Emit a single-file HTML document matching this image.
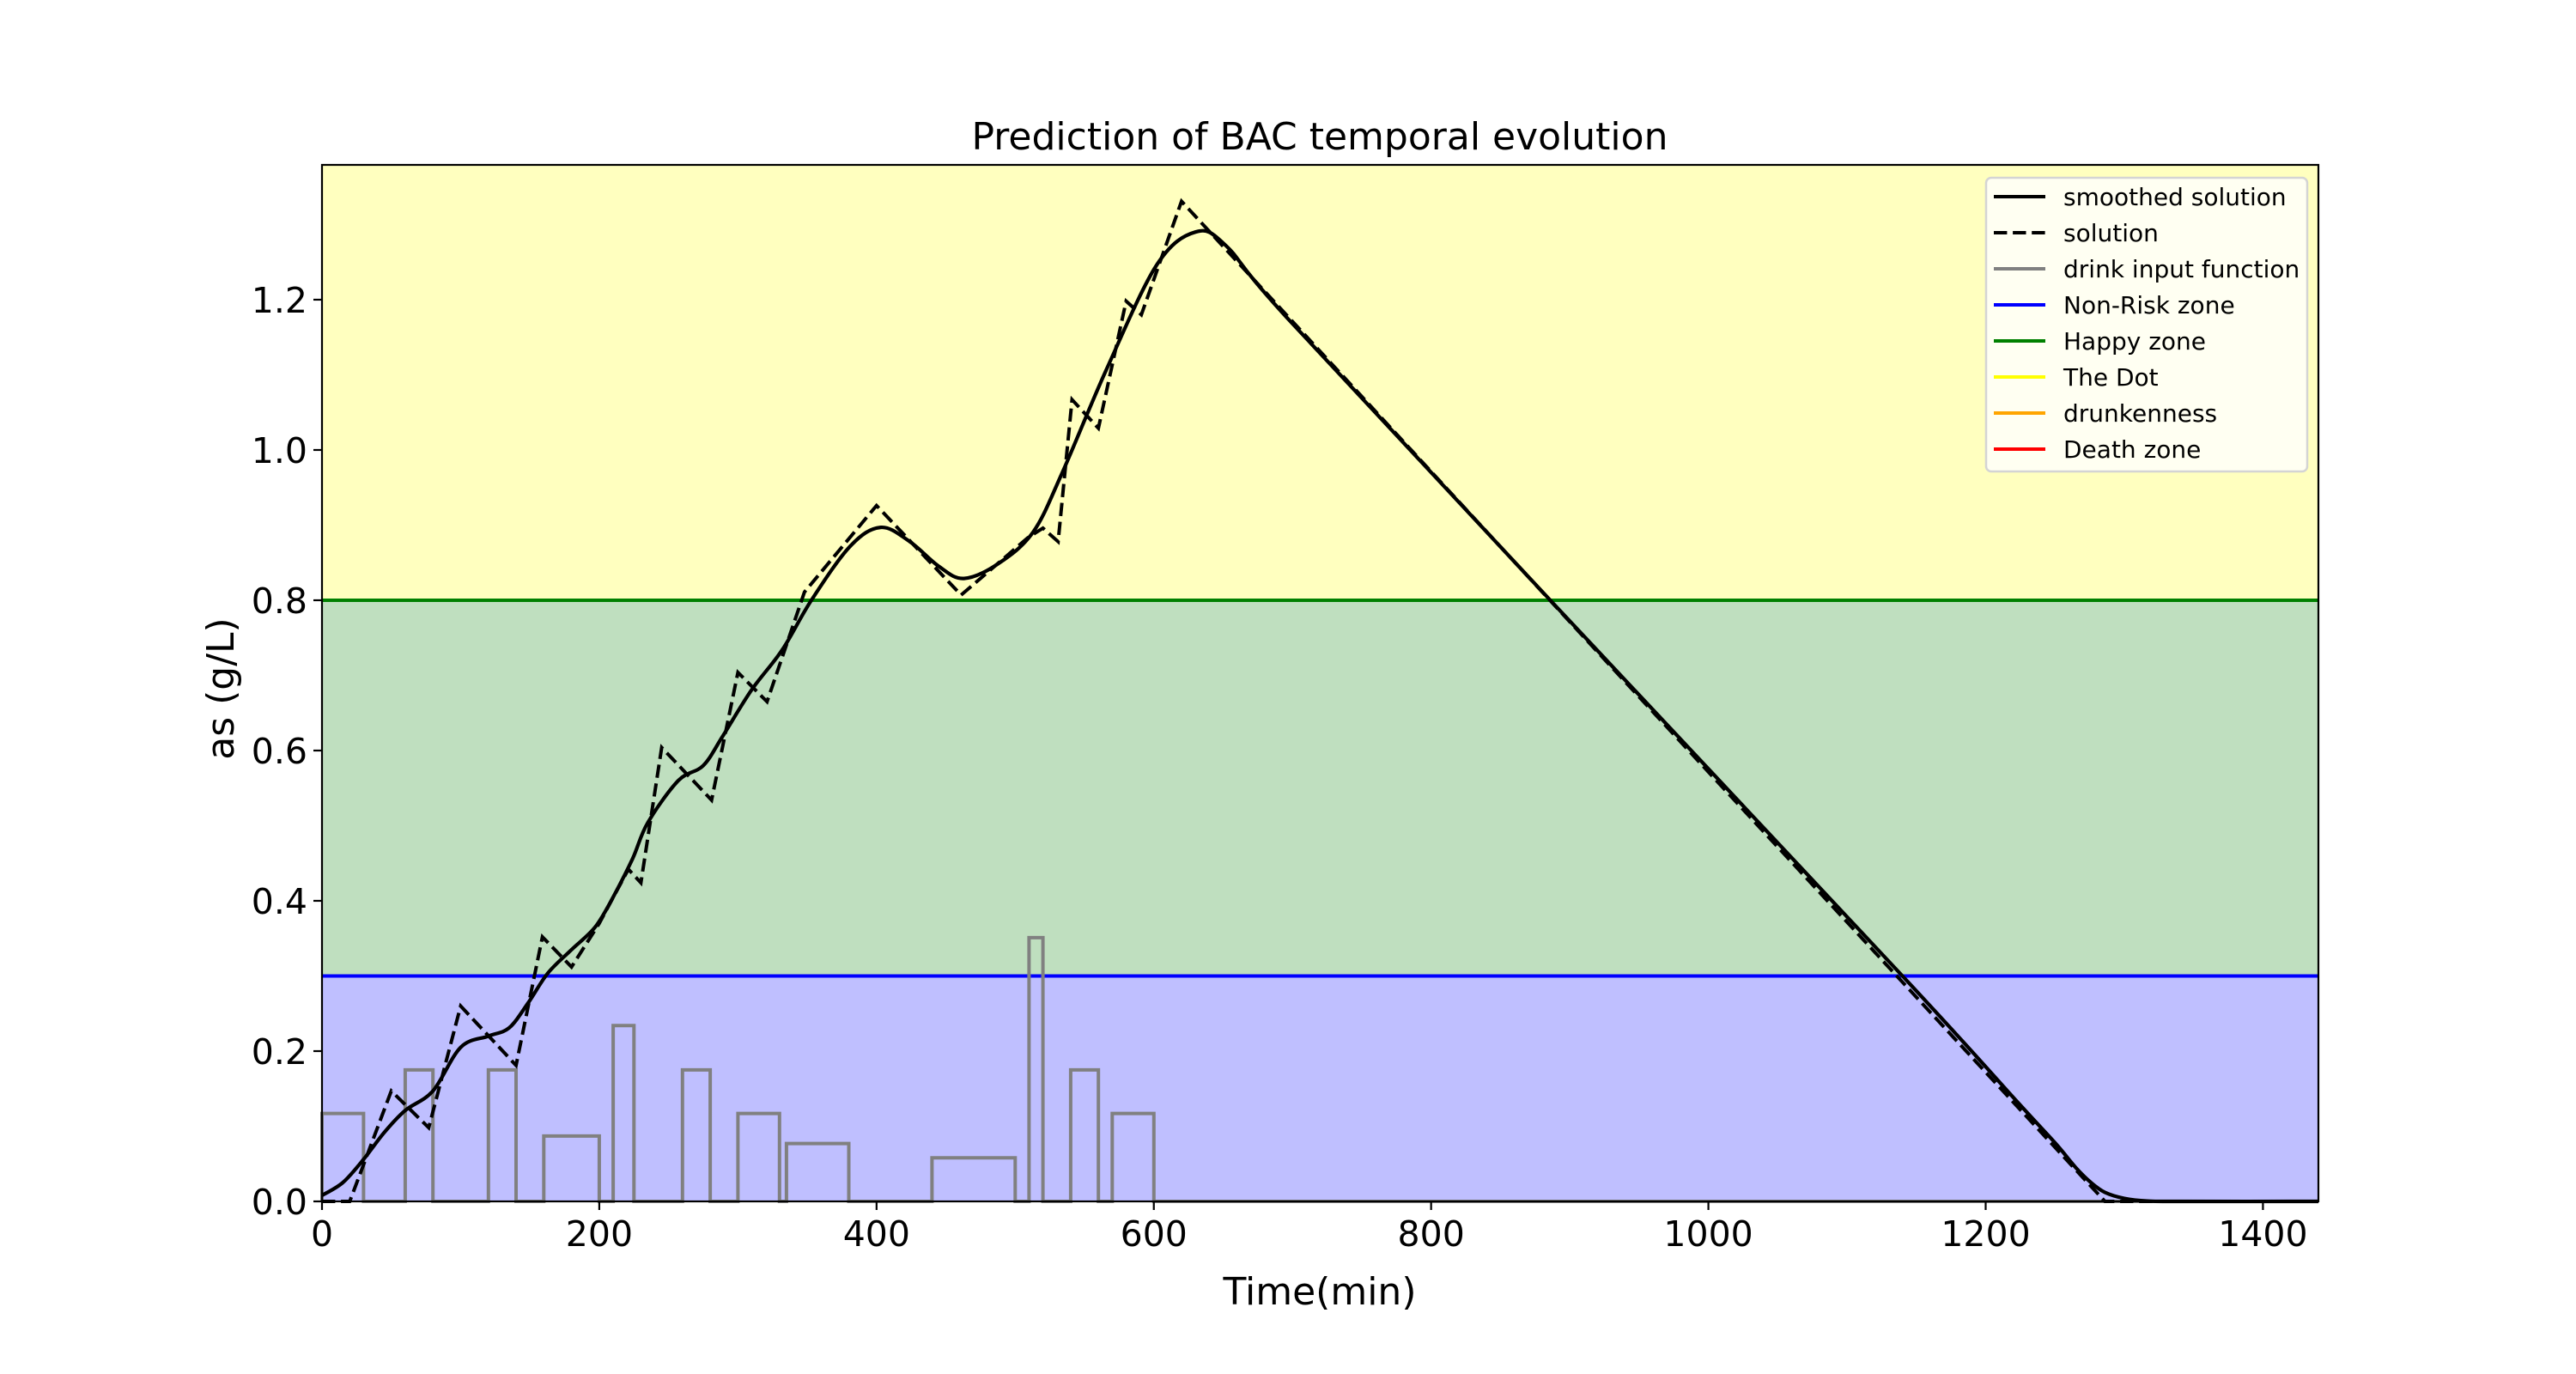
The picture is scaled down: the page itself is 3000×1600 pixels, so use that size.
<!DOCTYPE html>
<html><head><meta charset="utf-8">
<style>
html,body{margin:0;padding:0;background:#fff;}
svg{display:block;font-family:"DejaVu Sans","Liberation Sans",sans-serif;}
</style></head>
<body>
<svg id="chart" width="3000" height="1600" viewBox="0 0 3000 1600" xmlns="http://www.w3.org/2000/svg">
<g id="bands"></g>
<g id="plotg"></g>
<g id="axes"></g>
<text x="1537" y="174" font-size="44" text-anchor="middle">Prediction of BAC temporal evolution</text>
<text x="1537" y="1519" font-size="44" text-anchor="middle">Time(min)</text>
<text x="272" y="802" font-size="44" text-anchor="middle" transform="rotate(-90 272 802)">as (g/L)</text>
<g id="legend"></g>
</svg>
<script>
// ---- data ----
const xTicks = [0, 200, 400, 600, 800, 1000, 1200, 1400];
const yTicks = [0.0, 0.2, 0.4, 0.6, 0.8, 1.0, 1.2];
const yTickLabels = ["0.0", "0.2", "0.4", "0.6", "0.8", "1.0", "1.2"];
const zoneBounds = [0.3, 0.8];
const drinkStart = [0, 60, 120, 160, 210, 260, 300, 335, 440, 510, 540, 570];
const drinkEnd   = [30, 80, 140, 200, 225, 280, 330, 380, 500, 520, 560, 600];
const drinkValue = [0.117, 0.175, 0.175, 0.087, 0.234, 0.175, 0.117, 0.077, 0.058, 0.351, 0.175, 0.117];
const solT = [0, 20, 50, 77, 100, 140, 159, 180, 200, 221, 230, 245, 281, 300, 321, 348, 400, 461, 509, 520, 531, 541, 560, 580, 591, 620, 1286, 1440];
const solV = [0, 0, 0.147, 0.098, 0.26, 0.181, 0.352, 0.312, 0.37, 0.442, 0.424, 0.604, 0.534, 0.704, 0.665, 0.811, 0.926, 0.807, 0.883, 0.896, 0.878, 1.067, 1.029, 1.198, 1.18, 1.331, 0, 0];
const smT = [0, 15, 30, 45, 60, 80, 100, 120, 135, 149, 163, 180, 197, 210, 224, 235, 257, 275, 289, 310, 332, 353, 381, 403, 424, 445, 463, 488, 513, 534, 566, 602, 630, 652, 697, 886, 1140, 1224, 1250, 1265, 1276, 1286, 1300, 1317, 1340, 1440];
const smV = [0.008, 0.025, 0.056, 0.092, 0.121, 0.147, 0.205, 0.22, 0.231, 0.265, 0.304, 0.335, 0.365, 0.405, 0.456, 0.504, 0.56, 0.58, 0.619, 0.681, 0.734, 0.80, 0.872, 0.897, 0.878, 0.845, 0.829, 0.849, 0.891, 0.97, 1.108, 1.246, 1.29, 1.272, 1.174, 0.80, 0.30, 0.13, 0.078, 0.045, 0.025, 0.012, 0.004, 0.0005, 0, 0];

// ---- axes ----
const L = 375, R = 2700, T = 192, B = 1399;
const xMax = 1440, yMax = 1.3794;
const sx = t => L + t / xMax * (R - L);
const sy = v => B - v / yMax * (B - T);
const NS = "http://www.w3.org/2000/svg";
function mk(tag, parent, attrs) {
  const e = document.createElementNS(NS, tag);
  for (const k in attrs) e.setAttribute(k, attrs[k]);
  parent.appendChild(e); return e;
}
const bands = document.getElementById('bands');
const plotg = document.getElementById('plotg');
const axes = document.getElementById('axes');
const legend = document.getElementById('legend');

let r = mk('rect', bands, {x: L, y: sy(0.3), width: R - L, height: sy(0) - sy(0.3), fill: '#bfbfff'});


r = mk('rect', bands, {x: L, y: sy(0.8), width: R - L, height: sy(0.3) - sy(0.8), fill: '#bfdfbf'});


r = mk('rect', bands, {x: L, y: T, width: R - L, height: sy(0.8) - T, fill: '#ffffbf'});



const zoneColors = ['#0000ff', '#008000'];
const zoneNames = ['non-risk-line', 'happy-line'];
zoneBounds.forEach((b, i) => {
  const ln = mk('line', plotg, {x1: L, x2: R, y1: sy(b), y2: sy(b), stroke: zoneColors[i], 'stroke-width': 4});
  
  
});

let pts = [[0, 0]];
drinkStart.forEach((s, i) => {
  pts.push([s, 0], [s, drinkValue[i]], [drinkEnd[i], drinkValue[i]], [drinkEnd[i], 0]);
});
pts.push([xMax, 0]);
const drink = mk('polyline', plotg, {points: pts.map(p => sx(p[0]).toFixed(1) + ',' + sy(p[1]).toFixed(1)).join(' '), fill: 'none', stroke: '#808080', 'stroke-width': 4});



const sol = mk('polyline', plotg, {points: solT.map((t, i) => sx(t).toFixed(1) + ',' + sy(solV[i]).toFixed(1)).join(' '), fill: 'none', stroke: '#000', 'stroke-width': 4, 'stroke-dasharray': '15.4 6.7'});



const P = smT.map((t, i) => [sx(t), sy(smV[i])]);
let d = 'M' + P[0][0].toFixed(1) + ',' + P[0][1].toFixed(1);
for (let i = 0; i < P.length - 1; i++) {
  const p0 = P[Math.max(0, i - 1)], p1 = P[i], p2 = P[i + 1], p3 = P[Math.min(P.length - 1, i + 2)];
  const c1 = [p1[0] + (p2[0] - p0[0]) / 6, p1[1] + (p2[1] - p0[1]) / 6];
  const c2 = [p2[0] - (p3[0] - p1[0]) / 6, p2[1] - (p3[1] - p1[1]) / 6];
  d += ' C' + c1[0].toFixed(1) + ',' + c1[1].toFixed(1) + ' ' + c2[0].toFixed(1) + ',' + c2[1].toFixed(1) + ' ' + p2[0].toFixed(1) + ',' + p2[1].toFixed(1);
}
const sm = mk('path', plotg, {d: d, fill: 'none', stroke: '#000', 'stroke-width': 4.2});



const fr = mk('rect', axes, {x: L, y: T, width: R - L, height: B - T, fill: 'none', stroke: '#000', 'stroke-width': 2.2});



xTicks.forEach(t => {
  const tk = mk('line', axes, {x1: sx(t), x2: sx(t), y1: B, y2: B + 10, stroke: '#000', 'stroke-width': 2.2});
  
  
  const lb = mk('text', axes, {x: sx(t), y: B + 52, 'font-size': 41, 'text-anchor': 'middle'});
  lb.textContent = String(t);
  
  
});
yTicks.forEach((v, i) => {
  const tk = mk('line', axes, {x1: L - 10, x2: L, y1: sy(v), y2: sy(v), stroke: '#000', 'stroke-width': 2.2});
  
  
  const lb = mk('text', axes, {x: L - 17, y: sy(v) + 15, 'font-size': 41, 'text-anchor': 'end'});
  lb.textContent = yTickLabels[i];
  
  
});

const legNames = ['smoothed solution', 'solution', 'drink input function', 'Non-Risk zone', 'Happy zone', 'The Dot', 'drunkenness', 'Death zone'];
const legColors = ['#000', '#000', '#808080', '#0000ff', '#008000', '#ffff00', '#ffa500', '#ff0000'];
const box = mk('rect', legend, {x: 2313, y: 207, width: 374, height: 342, rx: 6, fill: '#fffff2', stroke: '#d4d4d4', 'stroke-width': 2.5});


legNames.forEach((n, i) => {
  const y = 229 + i * 42;
  const g = mk('g', legend, {});
  
  
  const a = {x1: 2322, x2: 2382, y1: y, y2: y, stroke: legColors[i], 'stroke-width': 4};
  if (i === 1) a['stroke-dasharray'] = '15.4 6.7';
  mk('line', g, a);
  const tx = mk('text', g, {x: 2403, y: y + 10, 'font-size': 28});
  tx.textContent = n;
});
</script>
</body></html>
